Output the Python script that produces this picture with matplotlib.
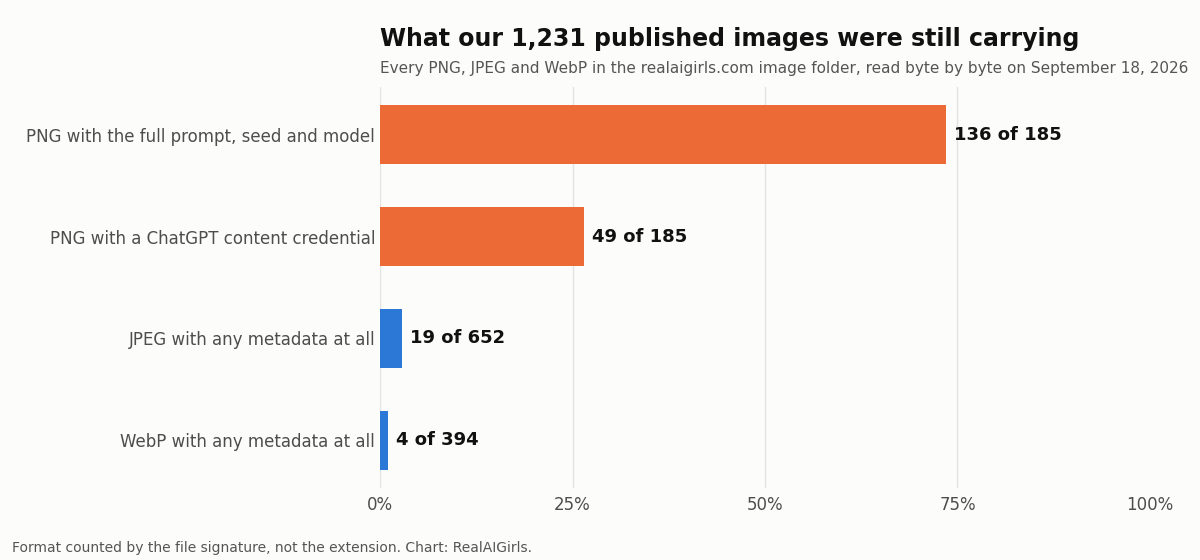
import numpy as np
import matplotlib.pyplot as plt

# data
labels = ["PNG with the full prompt, seed and model",
          "PNG with a ChatGPT content credential",
          "JPEG with any metadata at all",
          "WebP with any metadata at all"]
hits = [136, 49, 19, 4]
totals = [185, 185, 652, 394]
bar_colors = ["#EB6A35", "#EB6A35", "#2B78D6", "#2B78D6"]

share = np.array(hits) / np.array(totals) * 100
ypos = np.arange(len(labels))

bg = "#FCFCFA"
fig = plt.figure(figsize=(12, 5.6), dpi=100, facecolor=bg)
ax = fig.add_axes([0.3167, 0.1286, 0.6416, 0.716], facecolor=bg)

ax.barh(ypos, share, height=0.58, color=bar_colors, zorder=3)
ax.invert_yaxis()
ax.set_xlim(0, 100)
ax.set_xticks([0, 25, 50, 75, 100])
ax.set_xticklabels(["0%", "25%", "50%", "75%", "100%"])
ax.set_yticks(ypos)
ax.set_yticklabels(labels)
ax.tick_params(length=0, labelsize=12, labelcolor="#4d4d4d")
ax.tick_params(axis="y", pad=3.5)
ax.tick_params(axis="x", pad=6)
ax.grid(axis="x", color="#e3e3e3", linewidth=1, zorder=0)
# the 100% line is not drawn in the original
ax.get_xgridlines()[-1].set_visible(False)
for s in ax.spines.values():
    s.set_visible(False)

# value labels
for y, v, h, t in zip(ypos, share, hits, totals):
    ax.text(v + 1.0, y, f"{h} of {t}", va="center", ha="left",
            fontsize=13, fontweight="bold", color="#111111")

fig.text(380 / 1200, 1 - 39 / 560, "What our 1,231 published images were still carrying",
         fontsize=17, fontweight="bold", color="#111111", va="center", ha="left")
fig.text(380 / 1200, 1 - 68 / 560,
         "Every PNG, JPEG and WebP in the realaigirls.com image folder, read byte by byte on September 18, 2026",
         fontsize=11, color="#555555", va="center", ha="left")
fig.text(12 / 1200, 1 - 548 / 560,
         "Format counted by the file signature, not the extension. Chart: RealAIGirls.",
         fontsize=10, color="#555555", va="center", ha="left")

fig.savefig("out.png", dpi=100, facecolor=bg)
